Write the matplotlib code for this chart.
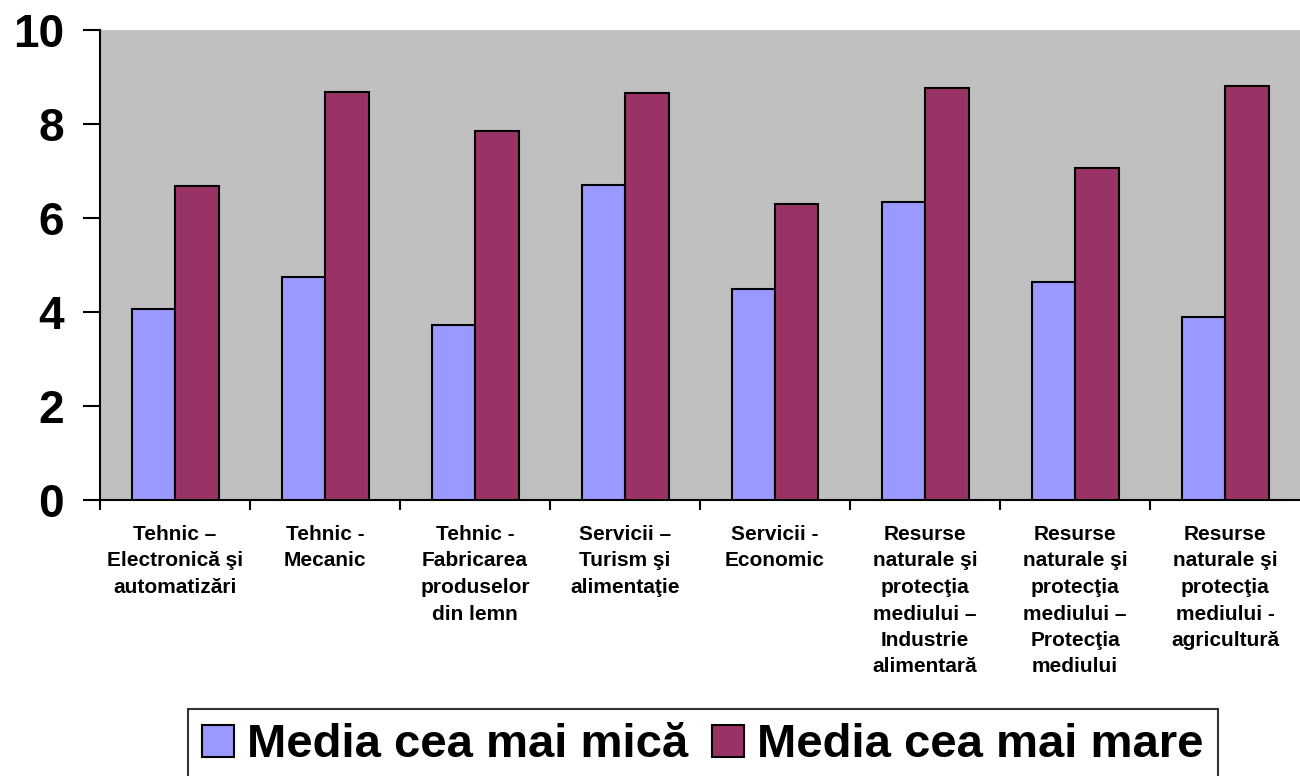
import numpy as np
import matplotlib
matplotlib.use("Agg")
from matplotlib import pyplot as plt

plt.rcParams['font.family'] = ['Liberation Sans', 'DejaVu Sans']

# categories (specializations)
categories = [
    "Tehnic –\nElectronică şi\nautomatizări",
    "Tehnic -\nMecanic",
    "Tehnic -\nFabricarea\nproduselor\ndin lemn",
    "Servicii –\nTurism şi\nalimentaţie",
    "Servicii -\nEconomic",
    "Resurse\nnaturale şi\nprotecţia\nmediului –\nIndustrie\nalimentară",
    "Resurse\nnaturale şi\nprotecţia\nmediului –\nProtecţia\nmediului",
    "Resurse\nnaturale şi\nprotecţia\nmediului -\nagricultură",
]
media_mica = [4.06, 4.74, 3.72, 6.71, 4.49, 6.35, 4.64, 3.89]
media_mare = [6.69, 8.68, 7.86, 8.65, 6.30, 8.76, 7.07, 8.80]
series_names = ["Media cea mai mică", "Media cea mai mare"]
y_ticks = [0, 2, 4, 6, 8, 10]

fig = plt.figure(figsize=(13, 7.76), dpi=100)
ax = fig.add_axes([100/1300, 1 - 500/776, 1 - 100/1300, 470/776])
ax.set_facecolor('#c0c0c0')

x = np.arange(len(categories))
w = 0.29
b1 = ax.bar(x - w/2, media_mica, w, color='#9999ff', edgecolor='black', linewidth=1.5,
            label=series_names[0], zorder=3)
b2 = ax.bar(x + w/2, media_mare, w, color='#993366', edgecolor='black', linewidth=1.5,
            label=series_names[1], zorder=3)

ax.set_xlim(-0.5, len(categories) - 0.5)
ax.set_ylim(0, 10)

# spines
ax.spines['top'].set_visible(False)
ax.spines['right'].set_visible(False)
ax.spines['left'].set_linewidth(1.5)
ax.spines['bottom'].set_linewidth(1.5)

ax.set_yticks(y_ticks)
ax.set_yticklabels([str(v) for v in y_ticks], fontsize=33, fontweight='bold')
ax.tick_params(axis='y', length=12, width=1.5, pad=14)

ax.set_xticks(x)
ax.set_xticklabels(categories, fontsize=15, fontweight='bold', linespacing=1.5)
ax.tick_params(axis='x', which='major', length=0, pad=18)
ax.set_xticks(np.arange(len(categories)) - 0.5, minor=True)
ax.tick_params(axis='x', which='minor', length=7, width=1.5)

leg = fig.legend(handles=[b1, b2], labels=series_names, loc='upper center',
                 bbox_to_anchor=(703/1300, 1 - 709/776), ncol=2, frameon=True, fancybox=False,
                 prop={'family': 'Liberation Sans', 'weight': 'bold', 'size': 34},
                 handlelength=0.68, handleheight=0.66, handletextpad=0.28,
                 columnspacing=0.5, borderpad=0.3, borderaxespad=0)
leg.get_frame().set_edgecolor('black')
leg.get_frame().set_linewidth(1.5)

fig.savefig('out.png', dpi=100)
